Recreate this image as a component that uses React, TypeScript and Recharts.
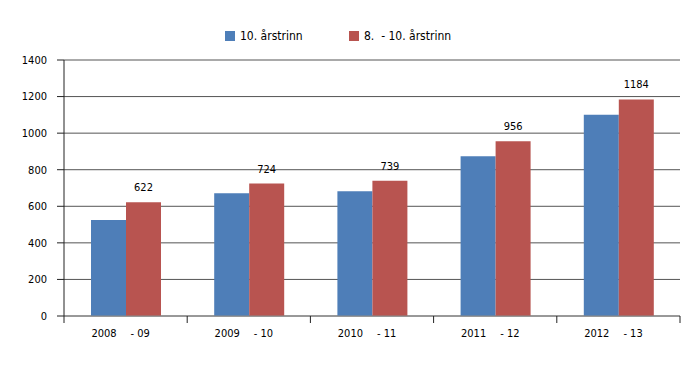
import { BarChart, Bar, XAxis, YAxis, CartesianGrid, LabelList } from 'recharts';

const categories = ['2008 - 09', '2009 - 10', '2010 - 11', '2011 - 12', '2012 - 13'];
const grade10 = [525, 671, 682, 874, 1101];
const grade8to10 = [622, 724, 739, 956, 1184];
const yTicks = [0, 200, 400, 600, 800, 1000, 1200, 1400];

const BLUE = '#4E7EB8';
const RED = '#B85450';
const FONT = '"Liberation Sans Narrow", "DejaVu Sans Condensed", "DejaVu Sans", sans-serif';

const data = categories.map((name, i) => ({ name, a: grade10[i], b: grade8to10[i] }));

const W = 700;
const H = 368;
const PLOT_LEFT = 64;
const PLOT_RIGHT = 680;
const AXIS_Y = 316;
const BAND = (PLOT_RIGHT - PLOT_LEFT) / categories.length;

function XTick(props: any) {
  const { x, payload, index } = props;
  const [start, end] = String(payload.value).split(' - ');
  const left = x - BAND / 2;
  return (
    <g>
      <line x1={left} x2={left} y1={AXIS_Y} y2={AXIS_Y + 7} stroke="#222" />
      {index === categories.length - 1 && (
        <line x1={x + BAND / 2} x2={x + BAND / 2} y1={AXIS_Y} y2={AXIS_Y + 7} stroke="#222" />
      )}
      <text x={x - 9} y={AXIS_Y + 21} textAnchor="end" fontSize={11} fill="#000" fontFamily={FONT}>
        {start}
      </text>
      <text x={x + 5} y={AXIS_Y + 21} textAnchor="start" fontSize={11} fill="#000" fontFamily={FONT}>
        {'- ' + end}
      </text>
    </g>
  );
}

function LegendBox() {
  const item = (color: string, label: string, left: number) => (
    <div style={{ position: 'absolute', left, top: 0, display: 'flex', alignItems: 'center', whiteSpace: 'pre' }}>
      <span style={{ width: 10, height: 10, background: color, display: 'inline-block', marginRight: 5 }} />
      <span style={{ fontSize: 12, fontFamily: FONT, color: '#000' }}>{label}</span>
    </div>
  );
  return (
    <div style={{ position: 'absolute', left: 0, top: 29, width: W, height: 14 }}>
      {item(BLUE, '10. årstrinn', 225)}
      {item(RED, '8.  - 10. årstrinn', 349)}
    </div>
  );
}

export default function App() {
  return (
    <div style={{ position: 'absolute', left: 0, top: 0, width: W, height: H, background: '#fff' }}>
      <BarChart
        width={W}
        height={H}
        data={data}
        margin={{ top: 60, right: W - PLOT_RIGHT, bottom: 22, left: 0 }}
        barGap={0}
        barSize={35}
      >
        <CartesianGrid vertical={false} stroke="#555" />
        <XAxis
          dataKey="name"
          height={H - 22 - AXIS_Y}
          axisLine={{ stroke: '#888' }}
          tickLine={false}
          tick={<XTick />}
          interval={0}
        />
        <YAxis
          width={PLOT_LEFT}
          domain={[0, 1400]}
          ticks={yTicks}
          interval={0}
          axisLine={{ stroke: '#222' }}
          tickLine={{ stroke: '#222' }}
          tickSize={7}
          tickMargin={10}
          tick={{ fontSize: 11, fill: '#000', fontFamily: FONT }}
        />
        <Bar dataKey="a" name="10. årstrinn" fill={BLUE} isAnimationActive={false} />
        <Bar dataKey="b" name="8. - 10. årstrinn" fill={RED} isAnimationActive={false}>
          <LabelList dataKey="b" position="top" offset={11} fontSize={11} fill="#000" fontFamily={FONT} />
        </Bar>
      </BarChart>
      <LegendBox />
    </div>
  );
}
